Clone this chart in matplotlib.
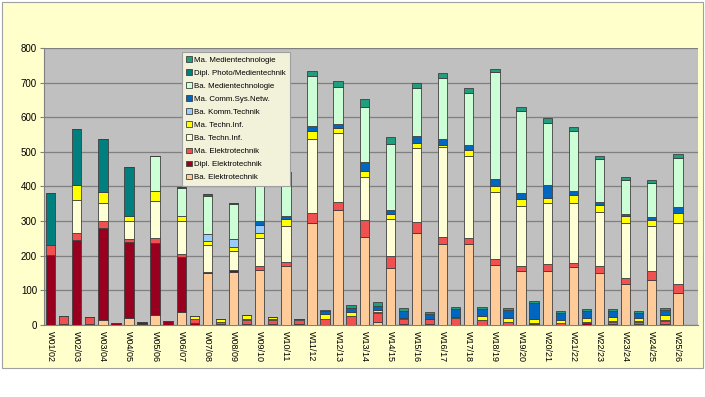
import numpy as np
import matplotlib
matplotlib.use('Agg')
import matplotlib.pyplot as plt
from matplotlib.patches import Rectangle

plt.rcParams['font.family'] = ['Liberation Sans', 'DejaVu Sans']

# Semester: je Wintersemester ein Balken, danach ein Balken fuer das Sommersemester
semester = ['W01/02', 'W02/03', 'W03/04', 'W04/05', 'W05/06', 'W06/07', 'W07/08',
            'W08/09', 'W09/10', 'W10/11', 'W11/12', 'W12/13', 'W13/14', 'W14/15',
            'W15/16', 'W16/17', 'W17/18', 'W18/19', 'W19/20', 'W20/21', 'W21/22',
            'W22/23', 'W23/24', 'W24/25', 'W25/26']

ba_et = [0, 0, 0, 0, 13, 0, 19, 3, 29, 1, 37, 0, 149, 0, 153, 0, 159, 0, 171, 0,
         294, 0, 332, 0, 255, 10, 166, 0, 265, 0, 234, 0, 233, 0, 173, 0, 157, 0, 157, 0,
         168, 0, 151, 0, 118, 0, 130, 0, 91, 0]
dipl_et = [203, 2, 246, 4, 268, 5, 222, 5, 208, 11, 158, 6, 3, 4, 6, 3, 0, 2, 0, 3,
           0, 0, 0, 0, 0, 0, 0, 2, 0, 2, 0, 0, 0, 0, 0, 0, 0, 4, 0, 0,
           0, 5, 0, 3, 0, 2, 0, 3, 0, 0]
ma_et = [29, 23, 19, 20, 20, 0, 8, 0, 13, 0, 9, 10, 2, 4, 0, 12, 12, 11, 12, 12,
         28, 16, 24, 27, 48, 25, 33, 16, 32, 14, 21, 19, 17, 13, 18, 8, 14, 3, 19, 6,
         10, 4, 19, 7, 17, 8, 26, 9, 27, 0]
ba_ti = [0, 0, 95, 0, 51, 0, 50, 2, 109, 0, 95, 2, 77, 2, 56, 3, 79, 3, 104, 3,
         216, 2, 199, 0, 123, 2, 107, 1, 213, 0, 258, 0, 239, 1, 194, 2, 174, 0, 175, 1,
         175, 1, 157, 2, 159, 2, 131, 2, 176, 0]
ma_ti = [0, 0, 43, 0, 33, 0, 17, 0, 29, 0, 17, 9, 13, 6, 9, 10, 15, 8, 19, 0,
         23, 14, 13, 10, 20, 6, 15, 0, 15, 0, 7, 5, 16, 12, 16, 9, 19, 10, 15, 7,
         21, 9, 19, 12, 21, 7, 17, 15, 29, 0]
ba_kt = [0, 0, 0, 0, 0, 0, 0, 0, 0, 0, 0, 0, 19, 0, 25, 0, 24, 0, 0, 0,
         0, 0, 0, 0, 0, 0, 0, 0, 0, 0, 0, 0, 0, 0, 0, 0, 0, 0, 0, 0,
         0, 0, 0, 0, 0, 0, 0, 0, 0, 0]
ma_csn = [0, 0, 0, 0, 0, 0, 0, 0, 0, 0, 0, 0, 0, 0, 0, 0, 11, 0, 10, 0,
          14, 8, 12, 11, 24, 12, 11, 20, 21, 15, 16, 22, 15, 19, 20, 24, 16, 46, 38, 21,
          12, 22, 8, 15, 5, 15, 7, 14, 17, 0]
ba_mt = [0, 0, 0, 0, 0, 0, 0, 0, 99, 0, 79, 0, 110, 0, 101, 0, 120, 0, 122, 0,
         145, 0, 106, 0, 161, 0, 191, 0, 138, 0, 178, 0, 149, 0, 311, 0, 239, 0, 178, 0,
         175, 0, 124, 0, 99, 0, 98, 0, 143, 0]
dipl_pm = [149, 0, 162, 0, 152, 0, 139, 0, 0, 0, 3, 0, 4, 0, 3, 0, 0, 0, 0, 0,
           0, 0, 0, 0, 0, 0, 0, 0, 0, 0, 0, 0, 0, 0, 0, 0, 0, 0, 0, 0,
           0, 0, 0, 0, 0, 0, 0, 0, 0, 0]
ma_mt = [0, 0, 0, 0, 0, 0, 0, 0, 0, 0, 0, 0, 0, 0, 0, 0, 2, 0, 5, 0,
         14, 3, 18, 10, 21, 12, 21, 9, 16, 7, 13, 5, 15, 6, 6, 5, 12, 6, 15, 5,
         12, 5, 10, 6, 7, 6, 10, 5, 10, 0]

reihen = [
    ('Ba. Elektrotechnik', ba_et, '#FFCC99'),
    ('Dipl. Elektrotechnik', dipl_et, '#99001F'),
    ('Ma. Elektrotechnik', ma_et, '#F05050'),
    ('Ba. Techn.Inf.', ba_ti, '#FFFFD5'),
    ('Ma. Techn.Inf.', ma_ti, '#FFFF00'),
    ('Ba. Komm.Technik', ba_kt, '#99CCFF'),
    ('Ma. Comm.Sys.Netw.', ma_csn, '#0066C0'),
    ('Ba. Medientechnologie', ba_mt, '#CCFFD5'),
    ('Dipl. Photo/Medientechnik', dipl_pm, '#007F7F'),
    ('Ma. Medientechnologie', ma_mt, '#1F9F7F'),
]

x = np.arange(len(ba_et))

fig = plt.figure(figsize=(7.05, 3.97), dpi=100, facecolor='white')
# gelber Diagrammbereich
fig.patches.append(Rectangle((0.003, 0.073), 0.994, 0.922, transform=fig.transFigure,
                             facecolor='#FFFFCC', edgecolor='#A0A0A0', lw=0.8, zorder=-5))
ax = fig.add_axes([0.0624, 0.1814, 0.927, 0.6977])
ax.set_facecolor('#C0C0C0')

unten = np.zeros(len(x))
for name, werte, farbe in reihen:
    werte = np.array(werte, dtype=float)
    ax.bar(x, werte, 0.72, bottom=unten, color=farbe, edgecolor='#404040',
           linewidth=0.6, label=name, zorder=3)
    unten += werte

ax.set_xlim(-0.5, len(x) - 0.5)
ax.set_ylim(0, 800)
ax.set_yticks(np.arange(0, 801, 100))
ax.yaxis.grid(True, color='#808080', lw=0.9, zorder=0)
ax.set_axisbelow(True)
ax.set_xticks(x[::2])
ax.set_xticklabels(semester, rotation=270, fontsize=6.5, va='top', ha='center')
ax.tick_params(axis='x', length=0, pad=4)
ax.tick_params(axis='y', labelsize=7, length=3, color='#808080', pad=2)
for s in ['top', 'right']:
    ax.spines[s].set_visible(False)
for s in ['left', 'bottom']:
    ax.spines[s].set_color('#808080')

h, l = ax.get_legend_handles_labels()
leg = ax.legend(h[::-1], l[::-1], loc='upper left', bbox_to_anchor=(0.211, 0.986),
                borderaxespad=0, fontsize=5.7, labelspacing=0.68, handlelength=0.75,
                handleheight=0.75, handletextpad=0.2, borderpad=0.55, fancybox=False,
                framealpha=1, facecolor='#F2F2DA', edgecolor='#A0A0A0')
leg.get_frame().set_linewidth(0.8)
leg.set_zorder(5)

plt.savefig('out.png', dpi=100, facecolor=fig.get_facecolor())
